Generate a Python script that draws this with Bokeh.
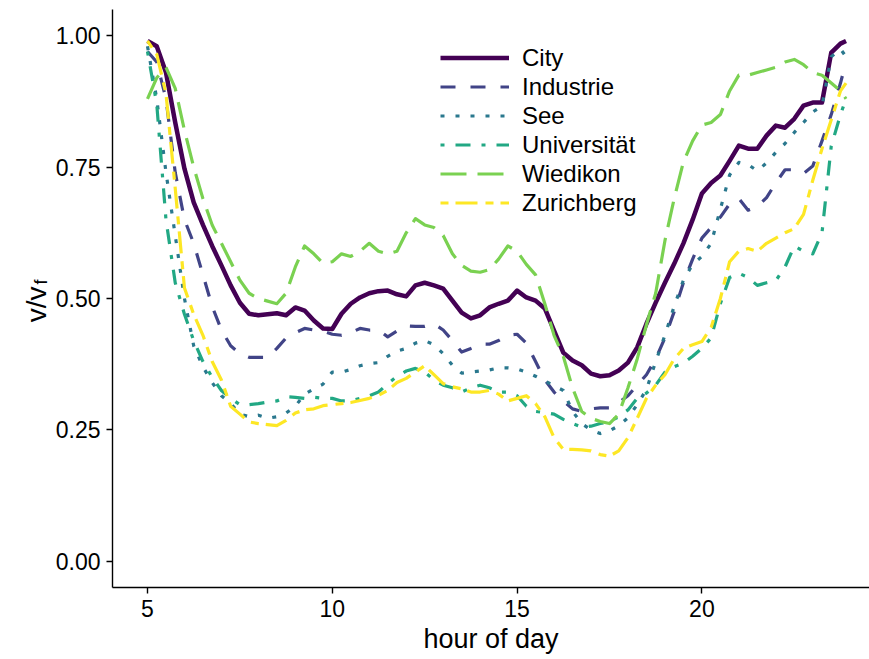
import math
from bokeh.plotting import figure
from bokeh.layouts import row
from bokeh.models import Range1d, FixedTicker, Legend, LegendItem, Label
from bokeh.embed import file_html
from bokeh.resources import INLINE

hours = [5.0, 5.25, 5.5, 5.75, 6.0, 6.25, 6.5, 6.75, 7.0, 7.25, 7.5, 7.75,
         8.0, 8.25, 8.5, 8.75, 9.0, 9.25, 9.5, 9.75, 10.0, 10.25, 10.5, 10.75,
         11.0, 11.25, 11.5, 11.75, 12.0, 12.25, 12.5, 12.75, 13.0, 13.25, 13.5, 13.75,
         14.0, 14.25, 14.5, 14.75, 15.0, 15.25, 15.5, 15.75, 16.0, 16.25, 16.5, 16.75,
         17.0, 17.25, 17.5, 17.75, 18.0, 18.25, 18.5, 18.75, 19.0, 19.25, 19.5, 19.75,
         20.0, 20.25, 20.5, 20.75, 21.0, 21.25, 21.5, 21.75, 22.0, 22.25, 22.5, 22.75,
         23.0, 23.25, 23.5, 23.75, 23.9]

city = [0.99, 0.98, 0.93, 0.835, 0.747, 0.683, 0.64, 0.60, 0.563, 0.525, 0.492, 0.471,
        0.468, 0.47, 0.472, 0.468, 0.483, 0.477, 0.458, 0.443, 0.442, 0.471, 0.49, 0.502,
        0.51, 0.514, 0.515, 0.508, 0.504, 0.525, 0.53, 0.525, 0.519, 0.496, 0.473, 0.462,
        0.468, 0.483, 0.49, 0.496, 0.515, 0.502, 0.496, 0.481, 0.439, 0.397, 0.382, 0.373,
        0.357, 0.352, 0.354, 0.363, 0.378, 0.407, 0.452, 0.492, 0.53, 0.566, 0.605, 0.65,
        0.70, 0.72, 0.734, 0.762, 0.791, 0.785, 0.785, 0.81, 0.829, 0.825, 0.842, 0.867,
        0.873, 0.873, 0.968, 0.985, 0.99]

industrie = [0.97, 0.95, 0.88, 0.74, 0.65, 0.605, 0.545, 0.485, 0.44, 0.41, 0.395, 0.388,
             0.388, 0.388, 0.405, 0.425, 0.435, 0.443, 0.44, 0.438, 0.432, 0.43, 0.435, 0.443,
             0.44, 0.44, 0.427, 0.438, 0.448, 0.447, 0.447, 0.452, 0.44, 0.42, 0.398, 0.405,
             0.413, 0.413, 0.42, 0.43, 0.432, 0.415, 0.38, 0.345, 0.322, 0.305, 0.29, 0.285,
             0.29, 0.292, 0.292, 0.302, 0.315, 0.335, 0.355, 0.385, 0.425, 0.475, 0.53, 0.575,
             0.615, 0.635, 0.655, 0.68, 0.69, 0.668, 0.675, 0.692, 0.72, 0.745, 0.745, 0.738,
             0.752, 0.80, 0.85, 0.91, 0.95]

see = [0.98, 0.88, 0.74, 0.62, 0.50, 0.41, 0.37, 0.34, 0.315, 0.30, 0.28, 0.275,
       0.278, 0.272, 0.275, 0.282, 0.295, 0.318, 0.328, 0.337, 0.36, 0.36, 0.365, 0.372,
       0.376, 0.378, 0.39, 0.40, 0.405, 0.415, 0.42, 0.412, 0.395, 0.373, 0.358, 0.36,
       0.362, 0.364, 0.368, 0.368, 0.366, 0.36, 0.352, 0.343, 0.334, 0.325, 0.285, 0.262,
       0.25, 0.243, 0.248, 0.258, 0.273, 0.298, 0.327, 0.38, 0.43, 0.485, 0.535, 0.565,
       0.58, 0.605, 0.67, 0.735, 0.759, 0.755, 0.743, 0.758, 0.778, 0.795, 0.816, 0.835,
       0.855, 0.866, 0.96, 0.975, 0.96]

universitaet = [0.97, 0.87, 0.65, 0.53, 0.47, 0.42, 0.38, 0.35, 0.325, 0.31, 0.298, 0.298,
                0.30, 0.303, 0.305, 0.313, 0.312, 0.31, 0.312, 0.31, 0.31, 0.305, 0.305, 0.31,
                0.315, 0.322, 0.338, 0.352, 0.362, 0.367, 0.36, 0.345, 0.335, 0.33, 0.322, 0.33,
                0.335, 0.33, 0.322, 0.322, 0.315, 0.295, 0.285, 0.283, 0.28, 0.27, 0.262, 0.255,
                0.257, 0.262, 0.266, 0.275, 0.288, 0.31, 0.32, 0.335, 0.36, 0.37, 0.377, 0.39,
                0.405, 0.425, 0.49, 0.54, 0.548, 0.54, 0.525, 0.53, 0.534, 0.56, 0.60, 0.59,
                0.585, 0.625, 0.79, 0.85, 0.88]

wiedikon = [0.88, 0.92, 0.94, 0.90, 0.82, 0.75, 0.69, 0.64, 0.605, 0.57, 0.535, 0.51,
            0.50, 0.495, 0.49, 0.51, 0.56, 0.60, 0.585, 0.567, 0.57, 0.585, 0.58, 0.59,
            0.605, 0.59, 0.585, 0.59, 0.625, 0.652, 0.64, 0.635, 0.62, 0.585, 0.563, 0.552,
            0.55, 0.555, 0.575, 0.60, 0.59, 0.565, 0.545, 0.49, 0.43, 0.39, 0.33, 0.285,
            0.272, 0.266, 0.262, 0.28, 0.33, 0.385, 0.45, 0.51, 0.61, 0.69, 0.76, 0.80,
            0.83, 0.835, 0.85, 0.895, 0.925, 0.925, 0.93, 0.935, 0.94, 0.95, 0.955, 0.945,
            0.93, 0.925, 0.91, 0.895, 0.88]

zurichberg = [0.99, 0.965, 0.89, 0.71, 0.52, 0.47, 0.43, 0.38, 0.345, 0.295, 0.28, 0.265,
              0.262, 0.26, 0.258, 0.268, 0.282, 0.288, 0.29, 0.296, 0.298, 0.30, 0.302, 0.306,
              0.31, 0.316, 0.325, 0.34, 0.348, 0.36, 0.372, 0.355, 0.338, 0.332, 0.328, 0.322,
              0.322, 0.325, 0.318, 0.305, 0.31, 0.315, 0.30, 0.275, 0.235, 0.213, 0.213, 0.212,
              0.21, 0.203, 0.20, 0.21, 0.235, 0.272, 0.31, 0.335, 0.355, 0.385, 0.405, 0.412,
              0.418, 0.445, 0.50, 0.57, 0.59, 0.595, 0.59, 0.605, 0.615, 0.625, 0.633, 0.66,
              0.725, 0.785, 0.84, 0.895, 0.91]

series_names = ["City", "Industrie", "See", "Universität", "Wiedikon", "Zurichberg"]
series_values = [city, industrie, see, universitaet, wiedikon, zurichberg]
colors = ["#440154", "#414487", "#2A788E", "#22A884", "#7AD151", "#FDE725"]
dashes = ["solid", "15 15", "4 11", "4 11 15 11", "26 11", "8 7 22 8"]
widths = [4.5, 3.2, 3.2, 3.2, 3.2, 3.2]

x_ticks = [5, 10, 15, 20]
y_ticks = [0.0, 0.25, 0.5, 0.75, 1.0]
y_tick_labels = ["0.00", "0.25", "0.50", "0.75", "1.00"]
x_title = "hour of day"
y_title_main = "v/v"
y_title_sub = "f"

FONT = "Liberation Sans"
H = 659
LEFT_W = 50
FRAME_BOTTOM = 587   # page y of the plotting area's lower edge

# ---- narrow strip holding the rotated y-axis title (v/v with subscript f)
ylab = figure(width=LEFT_W, height=H, output_backend="svg", toolbar_location=None,
              x_range=Range1d(0, LEFT_W), y_range=Range1d(0, 1),
              x_axis_type=None, y_axis_type=None,
              min_border=0, min_border_left=0, min_border_right=0,
              min_border_top=0, min_border_bottom=0)
ylab.outline_line_color = None
ylab.grid.visible = False
# anchored at the upper end of each piece, text runs downward-to-upward ending there
ylab.add_layout(Label(x=36, y=FRAME_BOTTOM - 286, x_units="screen", y_units="screen",
                      text=y_title_main, angle=math.pi / 2,
                      text_font=FONT, text_font_size="28px", text_color="black",
                      text_align="right", text_baseline="alphabetic"))
ylab.add_layout(Label(x=40, y=FRAME_BOTTOM - 279, x_units="screen", y_units="screen",
                      text=y_title_sub, angle=math.pi / 2,
                      text_font=FONT, text_font_size="18px", text_color="black",
                      text_align="right", text_baseline="alphabetic"))

# ---- main plot
p = figure(width=869 - LEFT_W, height=H, output_backend="svg", toolbar_location=None,
           x_range=Range1d(4.053, 24.535), y_range=Range1d(-0.05, 1.05),
           min_border_left=112 - LEFT_W, min_border_right=0, min_border_top=9,
           min_border_bottom=H - FRAME_BOTTOM)
p.background_fill_color = "white"
p.border_fill_color = "white"
p.outline_line_color = None
p.grid.visible = False

items = []
for name, vals, c, d, w in zip(series_names, series_values, colors, dashes, widths):
    r = p.line(hours, vals, line_color=c, line_width=w, line_dash=d,
               line_join="round", line_cap="butt")
    items.append(LegendItem(label=name, renderers=[r]))

legend = Legend(items=items, location=(328, 370), orientation="vertical",
                glyph_width=69, glyph_height=29, label_height=29, label_standoff=13,
                spacing=0, padding=0, margin=0, border_line_color=None,
                background_fill_alpha=0, label_text_font=FONT,
                label_text_font_size="24px", label_text_color="black",
                label_text_baseline="middle")
p.add_layout(legend)

for ax in (p.xaxis, p.yaxis):
    ax.axis_line_color = "black"
    ax.axis_line_width = 1.4
    ax.major_tick_line_color = "black"
    ax.major_tick_line_width = 1.4
    ax.major_tick_out = 6
    ax.major_tick_in = 0
    ax.minor_tick_line_color = None
    ax.major_label_text_font = FONT
    ax.major_label_text_font_size = "23px"
    ax.major_label_text_color = "black"
    ax.major_label_standoff = 6

p.xaxis.ticker = FixedTicker(ticks=x_ticks)
p.yaxis.ticker = FixedTicker(ticks=y_ticks)
p.yaxis.major_label_overrides = {t: l for t, l in zip(y_ticks, y_tick_labels)}

p.xaxis.axis_label = x_title
p.xaxis.axis_label_text_font = FONT
p.xaxis.axis_label_text_font_size = "27px"
p.xaxis.axis_label_text_font_style = "normal"
p.xaxis.axis_label_text_color = "black"
p.xaxis.axis_label_standoff = 4

layout = row(ylab, p)
open("out.html", "w").write(file_html(layout, INLINE))
